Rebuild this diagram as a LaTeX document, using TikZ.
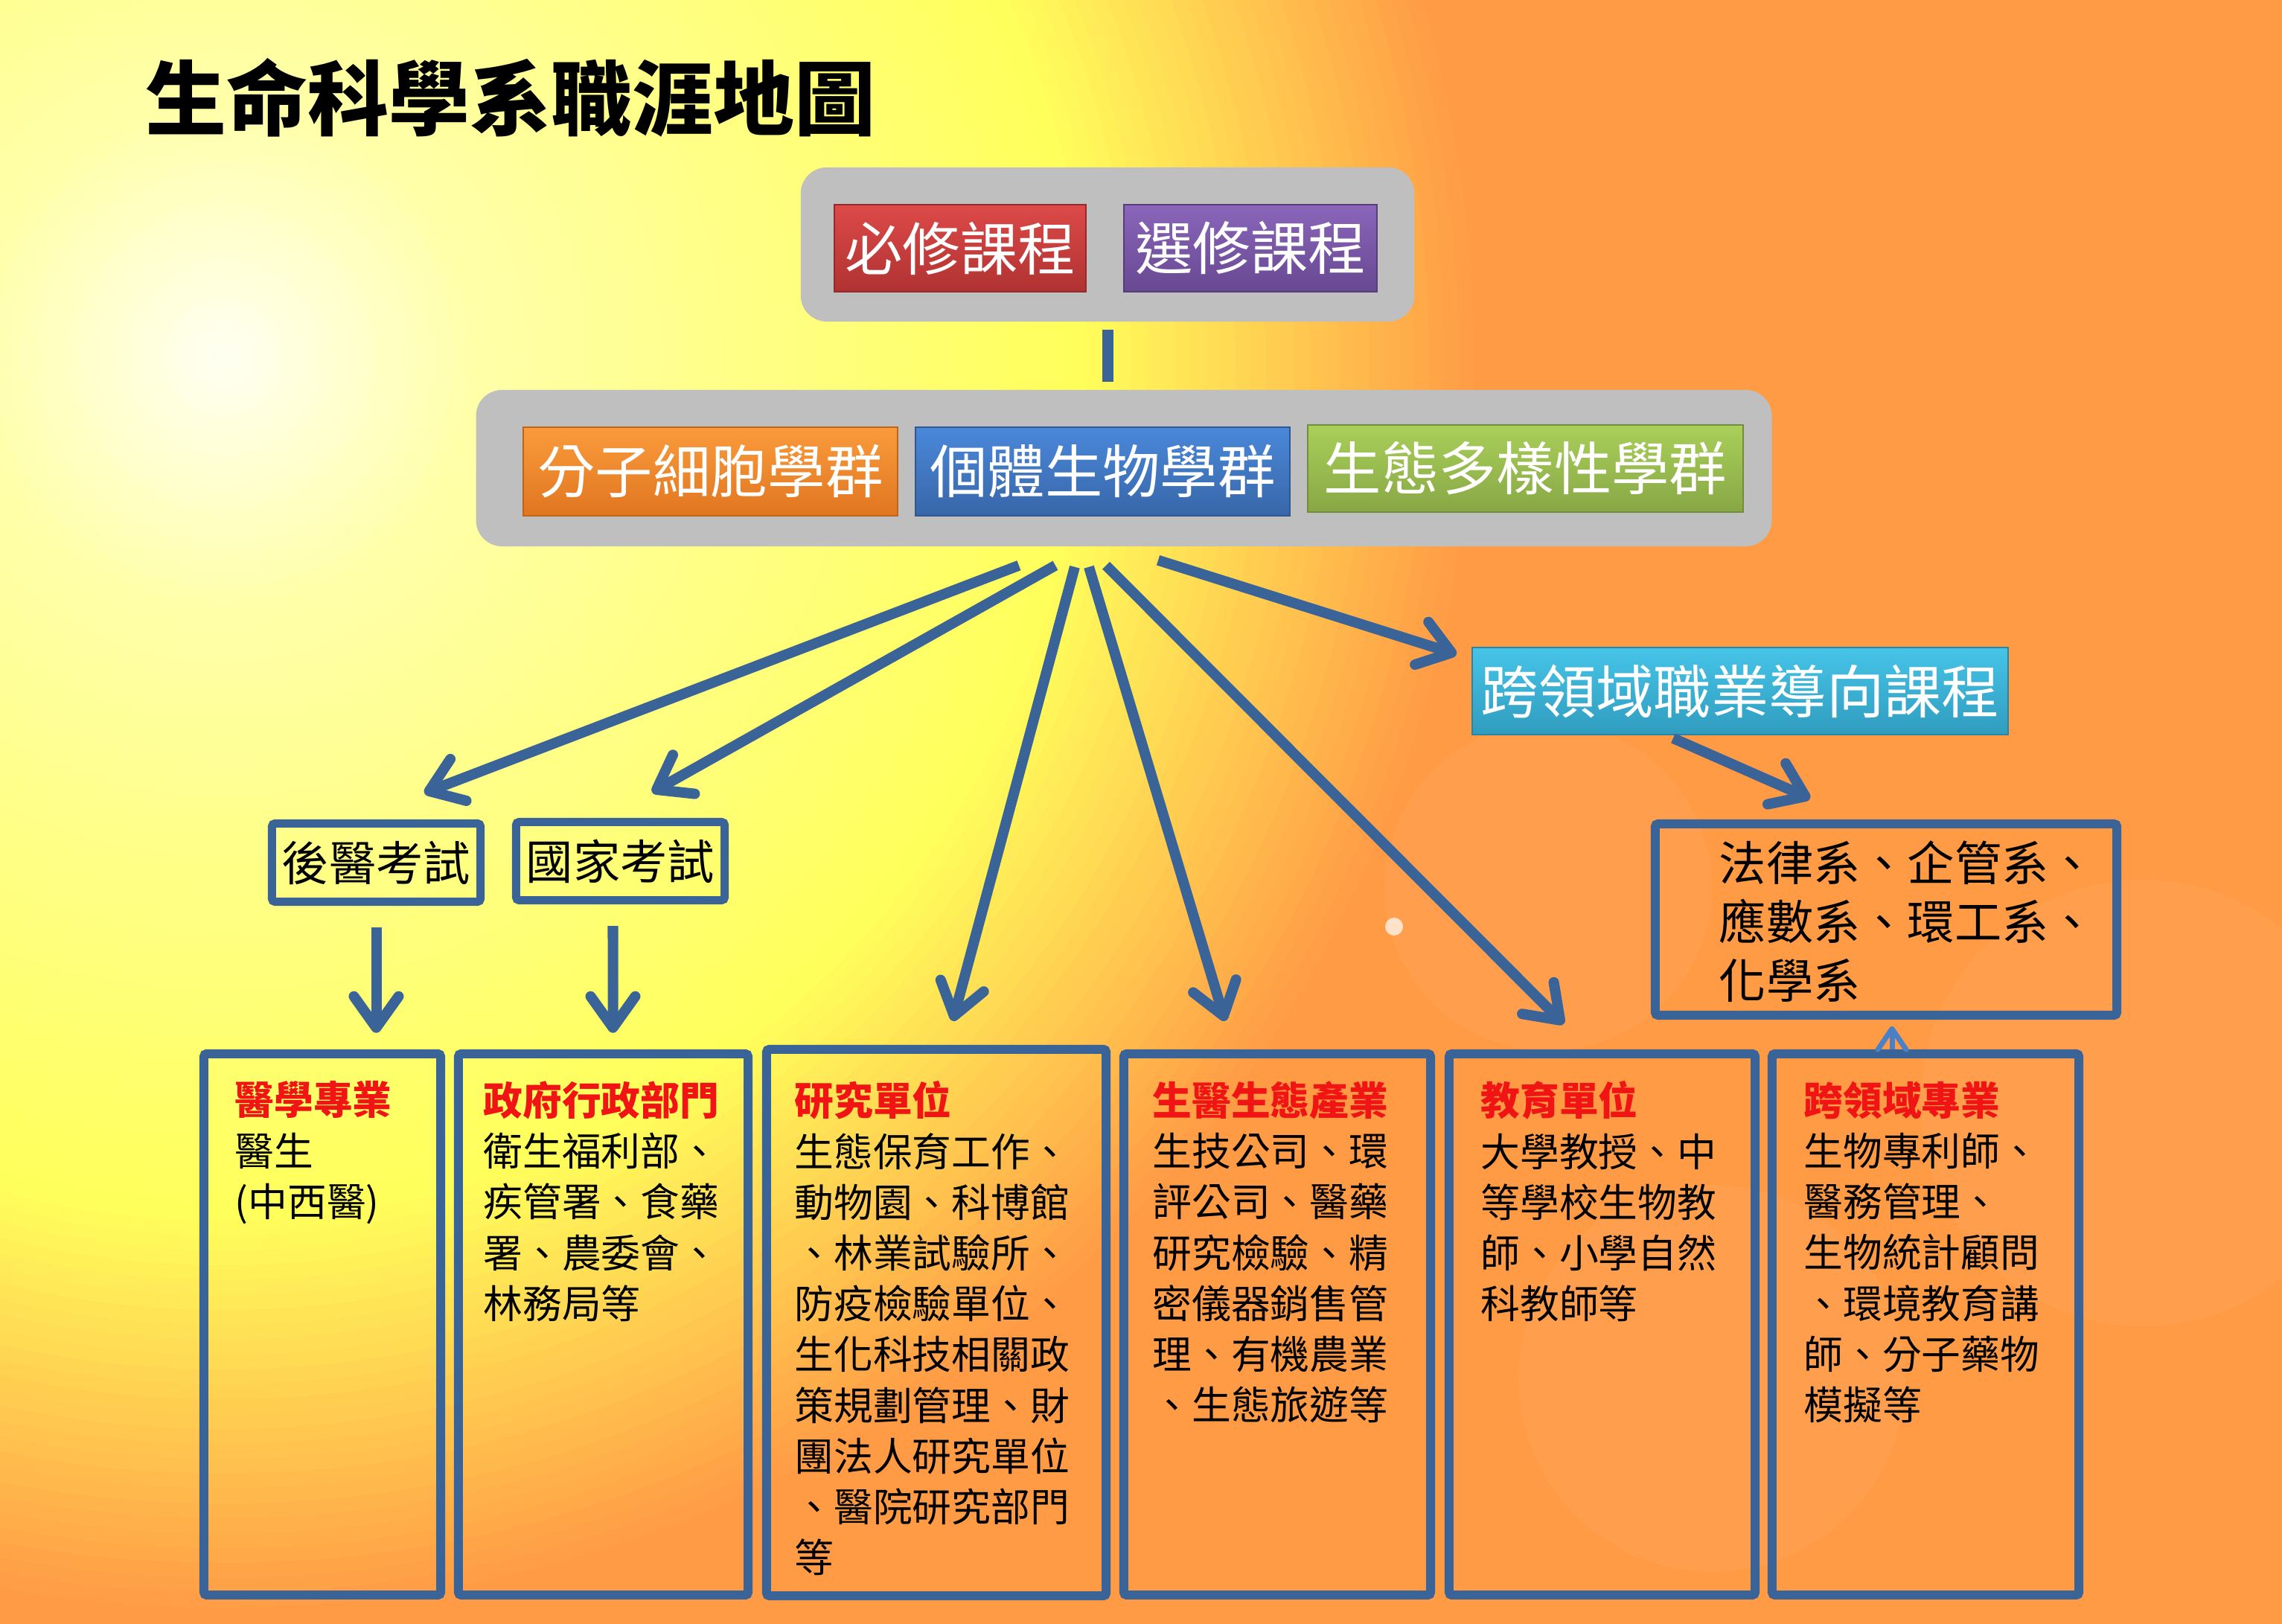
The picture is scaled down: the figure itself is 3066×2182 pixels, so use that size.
\documentclass[tikz,border=0pt]{standalone}
\usepackage{fontspec}
\usetikzlibrary{arrows.meta,positioning,calc}
\newfontfamily\cjk{Noto Sans CJK TC}
\definecolor{SunWhite}{HTML}{FFFFF4}
\definecolor{SunPale}{HTML}{FFFFA8}
\definecolor{Lemon}{HTML}{FFFF5C}
\definecolor{Tangerine}{HTML}{FF9A45}
\definecolor{Link}{HTML}{3A6498}
\definecolor{LinkLight}{HTML}{4A80C6}
\definecolor{Panel}{HTML}{BFBFBF}
\definecolor{HeadRed}{HTML}{F01414}
\definecolor{ReqTop}{HTML}{DC4A48}
\definecolor{ReqBot}{HTML}{B03232}
\definecolor{ElecTop}{HTML}{8A66BA}
\definecolor{ElecBot}{HTML}{674891}
\definecolor{MolTop}{HTML}{FA9B3C}
\definecolor{MolBot}{HTML}{E07620}
\definecolor{OrgTop}{HTML}{4A88DA}
\definecolor{OrgBot}{HTML}{3866A8}
\definecolor{EcoTop}{HTML}{AACF5A}
\definecolor{EcoBot}{HTML}{87A745}
\definecolor{CrossTop}{HTML}{46C4E8}
\definecolor{CrossBot}{HTML}{309CBE}

\begin{document}
\begin{tikzpicture}[x=0.01cm,y=0.01cm,
  panel/.style={fill=Panel,rounded corners=0.35cm,inner sep=0pt},
  course/.style 2 args={top color=#1,bottom color=#2,draw=#2!85!black,line width=0.5pt,inner sep=0pt,text=white,font=\cjk\fontsize{22}{26}\selectfont},
  frame/.style={draw=Link,line width=0.12cm,rounded corners=0.04cm,inner sep=0pt},
  exam/.style={frame,line width=0.11cm,font=\cjk\fontsize{18}{22}\selectfont},
  jobtext/.style={anchor=north west,inner sep=0pt,align=left,font=\cjk\fontsize{15}{19.4}\selectfont},
  link/.style={draw=Link,line width=0.15cm},
  arr/.style={draw=Link,line width=0.14cm,-{Straight Barb[length=0.42cm,width=0.6cm,round]}},
  minorarr/.style={draw=LinkLight,line width=0.07cm,-{Straight Barb[length=0.28cm,width=0.38cm,round]}}]
\useasboundingbox (0,0) rectangle (3066,2182);

% background glow
\begin{scope}
\clip (0,0) rectangle (3066,2182);
\fill[Tangerine] (0,0) rectangle (3066,2182);
\foreach \r in {1700,1680,...,1160} {
  \pgfmathsetmacro\p{(1700-\r)/5.4}
  \fill[Lemon!\p!Tangerine] (300,1702) circle (\r);
}
\foreach \r in {1150,1130,...,360} {
  \pgfmathsetmacro\p{(1150-\r)/7.9}
  \fill[SunPale!\p!Lemon] (300,1702) circle (\r);
}
\foreach \r in {350,340,...,10} {
  \pgfmathsetmacro\p{(350-\r)/3.5}
  \fill[SunWhite!\p!SunPale] (300,1702) circle (\r);
}
\fill[white,opacity=0.05] (2080,990) circle (220);
\fill[white,opacity=0.05] (2880,700) circle (300);
\fill[white,opacity=0.05] (2300,330) circle (260);
\fill[white,opacity=0.7] (1873,937) circle (12);
\end{scope}

\node[anchor=west,inner sep=0pt,font=\cjk\bfseries\fontsize{31}{34}\selectfont] (title) at (195,2051) {生命科學系職涯地圖};

% courses
\node[panel,minimum width=8.24cm,minimum height=2.07cm] (core) at (1488,1853.5) {};
\node[course={ReqTop}{ReqBot},minimum width=3.38cm,minimum height=1.17cm] (req) at (1290,1848.5) {必修課程};
\node[course={ElecTop}{ElecBot},minimum width=3.40cm,minimum height=1.17cm] (elec) at (1680,1848.5) {選修課程};

\node[panel,minimum width=17.4cm,minimum height=2.1cm] (grp) at (1510,1553) {};
\node[course={MolTop}{MolBot},minimum width=5.03cm,minimum height=1.19cm] (mol) at (954.5,1548.5) {分子細胞學群};
\node[course={OrgTop}{OrgBot},minimum width=5.03cm,minimum height=1.19cm] (org) at (1481.5,1548.5) {個體生物學群};
\node[course={EcoTop}{EcoBot},minimum width=5.85cm,minimum height=1.17cm] (eco) at (2049.5,1552.5) {生態多樣性學群};

\node[course={CrossTop}{CrossBot},minimum width=7.2cm,minimum height=1.17cm] (cross) at (2338,1253.5) {跨領域職業導向課程};

% exams
\node[exam,minimum width=2.80cm,minimum height=1.05cm] (exam1) at (505.5,1023) {後醫考試};
\node[exam,minimum width=2.80cm,minimum height=1.05cm] (exam2) at (833.5,1025) {國家考試};

% other departments
\node[frame,minimum width=6.2cm,minimum height=2.57cm] (law) at (2534,946.5) {};
\node[jobtext,font=\cjk\fontsize{18}{22.5}\selectfont] (lawtxt) at (2309,1053) {法律系、企管系、\\應數系、環工系、\\化學系};

% careers
\node[frame,minimum width=3.18cm,minimum height=7.27cm] (med) at (433,402.5) {};
\node[frame,minimum width=3.89cm,minimum height=7.27cm] (gov) at (810.5,402.5) {};
\node[frame,minimum width=4.56cm,minimum height=7.34cm] (res) at (1258,405) {};
\node[frame,minimum width=4.12cm,minimum height=7.27cm] (ind) at (1716,402.5) {};
\node[frame,minimum width=4.11cm,minimum height=7.27cm] (edu) at (2152.5,402.5) {};
\node[frame,minimum width=4.12cm,minimum height=7.27cm] (xpro) at (2587,402.5) {};

\node[jobtext] (medtxt) at (315,730) {{\bfseries\color{HeadRed}醫學專業}\\醫生\\(中西醫)};
\node[jobtext] (govtxt) at (649,730) {{\bfseries\color{HeadRed}政府行政部門}\\衛生福利部、\\疾管署、食藥\\署、農委會、\\林務局等};
\node[jobtext] (restxt) at (1067,730) {{\bfseries\color{HeadRed}研究單位}\\生態保育工作、\\動物園、科博館\\、林業試驗所、\\防疫檢驗單位、\\生化科技相關政\\策規劃管理、財\\團法人研究單位\\、醫院研究部門\\等};
\node[jobtext] (indtxt) at (1548,730) {{\bfseries\color{HeadRed}生醫生態產業}\\生技公司、環\\評公司、醫藥\\研究檢驗、精\\密儀器銷售管\\理、有機農業\\、生態旅遊等};
\node[jobtext] (edutxt) at (1989,730) {{\bfseries\color{HeadRed}教育單位}\\大學教授、中\\等學校生物教\\師、小學自然\\科教師等};
\node[jobtext] (xprotxt) at (2423,730) {{\bfseries\color{HeadRed}跨領域專業}\\生物專利師、\\醫務管理、\\生物統計顧問\\、環境教育講\\師、分子藥物\\模擬等};

% connectors
\draw[link] ([yshift=-0.1cm]core.south) -- ($(core.south |- grp.north)+(0,10)$);
\draw[arr] ([xshift=-1.41cm,yshift=-0.25cm]grp.south) -- ([xshift=0.645cm,yshift=0.355cm]exam1.north);
\draw[arr] ([xshift=-0.92cm,yshift=-0.25cm]grp.south) -- ([xshift=0.425cm,yshift=0.345cm]exam2.north);
\draw[arr] ([xshift=-0.66cm,yshift=-0.27cm]grp.south) -- ([xshift=0.22cm,yshift=0.32cm]res.north);
\draw[arr] ([xshift=-0.47cm,yshift=-0.27cm]grp.south) -- ([xshift=-0.70cm,yshift=0.38cm]ind.north);
\draw[arr] ([xshift=-0.24cm,yshift=-0.25cm]grp.south) -- ([xshift=-0.515cm,yshift=0.34cm]edu.north);
\draw[arr] ([xshift=0.46cm,yshift=-0.18cm]grp.south) -- ([xshift=-0.2cm,yshift=-0.1cm]cross.north west);
\draw[arr] ([xshift=-0.9cm,yshift=-0.04cm]cross.south) -- ([xshift=-1.02cm,yshift=0.28cm]law.north);
\draw[arr] ([yshift=-0.29cm]exam1.south) -- ($(exam1.south |- med.north)+(0,22)$);
\draw[arr] ([xshift=-0.1cm,yshift=-0.29cm]exam2.south) -- ($(exam2.south |- gov.north)+(-10,22)$);
\draw[minorarr] ([xshift=-0.45cm]xpro.north) -- ([xshift=-0.45cm,yshift=0.31cm]xpro.north);
\end{tikzpicture}
\end{document}
